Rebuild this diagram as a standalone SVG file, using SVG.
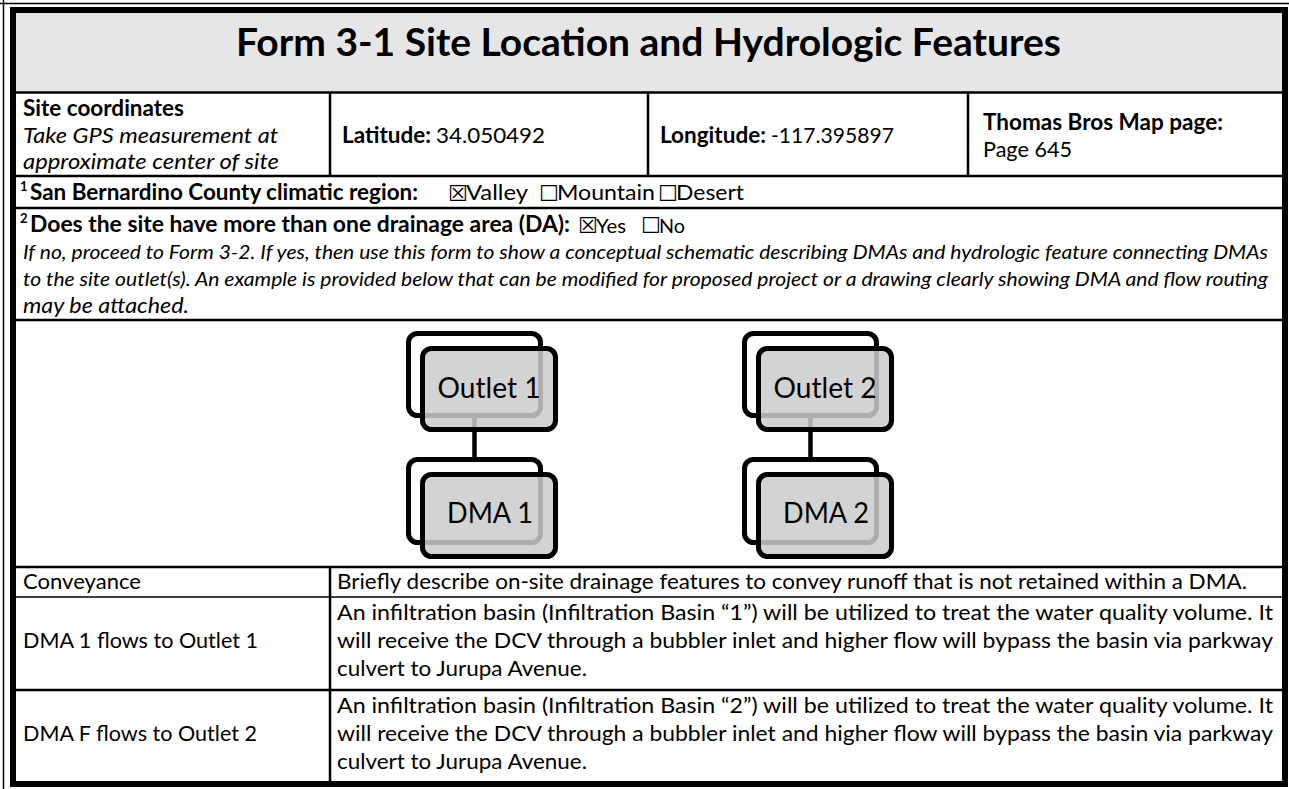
<svg xmlns="http://www.w3.org/2000/svg" width="1289" height="789" viewBox="0 0 1289 789">
<style>
text{font-family:Lato,"Open Sans","Liberation Sans",sans-serif;fill:#000}
.t{font-size:22px}
.b{font-size:22px;font-weight:bold}
.i{font-size:22px;font-style:italic}
.ip{font-size:20px;font-style:italic}
.sup{font-size:13px;font-weight:bold}
.box{font-family:"DejaVu Sans",sans-serif;font-size:22px}
.yn{font-size:20px}
.ln{stroke:#000;stroke-width:2.5;fill:none}
.thin{stroke:#000;stroke-width:1.5;fill:none}
.back{fill:#fff;stroke:#000;stroke-width:5}
.front{fill:#cbcbcb;fill-opacity:0.85;stroke:#000;stroke-width:5}
.nl{font-size:28px;text-anchor:middle}
.conn{stroke:#000;stroke-width:4.5;fill:none}
</style>
<rect x="0" y="0" width="1289" height="789" fill="#fff"/>
<g id="frame">
<rect x="16" y="13" width="1266" height="79.5" fill="#e6e6e6"/>
<line x1="0" y1="3.5" x2="1289" y2="3.5" class="thin"/>
<line x1="3.5" y1="0" x2="3.5" y2="789" class="thin"/>
<rect x="13" y="10" width="1272" height="774" fill="none" stroke="#000" stroke-width="6"/>
<line x1="16" y1="92.5" x2="1282" y2="92.5" class="ln"/>
<line x1="16" y1="176" x2="1282" y2="176" class="ln"/>
<line x1="16" y1="208" x2="1282" y2="208" class="ln"/>
<line x1="16" y1="320" x2="1282" y2="320" class="ln"/>
<line x1="16" y1="567" x2="1282" y2="567" class="ln"/>
<line x1="16" y1="597" x2="1282" y2="597" class="thin"/>
<line x1="16" y1="690" x2="1282" y2="690" class="ln"/>
<line x1="330" y1="92" x2="330" y2="176" class="ln"/>
<line x1="648" y1="92" x2="648" y2="176" class="ln"/>
<line x1="968" y1="92" x2="968" y2="176" class="ln"/>
<line x1="330" y1="567" x2="330" y2="781" class="ln"/>
</g>
<g id="title">
<text x="648.5" y="56" text-anchor="middle" font-size="39" font-weight="bold" textLength="825" lengthAdjust="spacingAndGlyphs">Form 3-1 Site Location and Hydrologic Features</text>
</g>
<g id="row1">
<text x="23" y="116" class="b" textLength="161" lengthAdjust="spacingAndGlyphs">Site coordinates</text>
<text x="23" y="143" class="i" textLength="255" lengthAdjust="spacingAndGlyphs">Take GPS measurement at</text>
<text x="23" y="169" class="i" textLength="256" lengthAdjust="spacingAndGlyphs">approximate center of site</text>
<text x="342" y="143" class="t"><tspan class="b" textLength="89" lengthAdjust="spacingAndGlyphs">Latitude:</tspan><tspan x="436" textLength="109" lengthAdjust="spacingAndGlyphs">34.050492</tspan></text>
<text x="660" y="143" class="t"><tspan class="b" textLength="106" lengthAdjust="spacingAndGlyphs">Longitude:</tspan><tspan x="771" textLength="123" lengthAdjust="spacingAndGlyphs">-117.395897</tspan></text>
<text x="983" y="130" class="b" textLength="240" lengthAdjust="spacingAndGlyphs">Thomas Bros Map page:</text>
<text x="983" y="157" class="t" textLength="89" lengthAdjust="spacingAndGlyphs">Page 645</text>
</g>
<g id="row2">
<text x="20" y="191" class="sup">1</text>
<text x="30" y="200" class="b" textLength="388" lengthAdjust="spacingAndGlyphs">San Bernardino County climatic region:</text>
<text x="448" y="201" class="box">☒</text>
<text x="466" y="200" class="t" textLength="62" lengthAdjust="spacingAndGlyphs">Valley</text>
<text x="539" y="201" class="box">☐</text>
<text x="557" y="200" class="t" textLength="98" lengthAdjust="spacingAndGlyphs">Mountain</text>
<text x="658" y="201" class="box">☐</text>
<text x="676" y="200" class="t" textLength="68" lengthAdjust="spacingAndGlyphs">Desert</text>
</g>
<g id="row3">
<text x="20" y="223" class="sup">2</text>
<text x="30" y="232" class="b" textLength="540" lengthAdjust="spacingAndGlyphs">Does the site have more than one drainage area (DA):</text>
<text x="578" y="233" class="box">☒</text>
<text x="596" y="233" class="yn" textLength="30" lengthAdjust="spacingAndGlyphs">Yes</text>
<text x="641" y="233" class="box">☐</text>
<text x="659" y="233" class="yn" textLength="26" lengthAdjust="spacingAndGlyphs">No</text>
<text x="23" y="259" class="ip" textLength="1245" lengthAdjust="spacingAndGlyphs">If no, proceed to Form 3-2. If yes, then use this form to show a conceptual schematic describing DMAs and hydrologic feature connecting DMAs</text>
<text x="23" y="286" class="ip" textLength="1245" lengthAdjust="spacingAndGlyphs">to the site outlet(s). An example is provided below that can be modified for proposed project or a drawing clearly showing DMA and flow routing</text>
<text x="23" y="313" class="i" textLength="166" lengthAdjust="spacingAndGlyphs">may be attached.</text>
</g>
<g id="connectors">
<line x1="474.5" y1="418" x2="474.5" y2="459" class="conn"/>
<line x1="810.5" y1="418" x2="810.5" y2="459" class="conn"/>
</g>
<g id="outlet1">
<rect x="408.5" y="333.5" width="132" height="82" rx="9" class="back"/>
<rect x="422.5" y="348.5" width="133" height="81" rx="9" class="front"/>
<text x="489" y="398" class="nl" textLength="103" lengthAdjust="spacingAndGlyphs">Outlet 1</text>
</g>
<g id="dma1">
<rect x="408.5" y="459.5" width="132" height="83" rx="9" class="back"/>
<rect x="422.5" y="474.5" width="133" height="82" rx="9" class="front"/>
<text x="490" y="523" class="nl" textLength="86" lengthAdjust="spacingAndGlyphs">DMA 1</text>
</g>
<g id="outlet2">
<rect x="744.5" y="333.5" width="132" height="82" rx="9" class="back"/>
<rect x="758.5" y="348.5" width="133" height="81" rx="9" class="front"/>
<text x="825" y="398" class="nl" textLength="103" lengthAdjust="spacingAndGlyphs">Outlet 2</text>
</g>
<g id="dma2">
<rect x="744.5" y="459.5" width="132" height="83" rx="9" class="back"/>
<rect x="758.5" y="474.5" width="133" height="82" rx="9" class="front"/>
<text x="826" y="523" class="nl" textLength="86" lengthAdjust="spacingAndGlyphs">DMA 2</text>
</g>
<g id="table">
<text x="23" y="589" class="t" textLength="118" lengthAdjust="spacingAndGlyphs">Conveyance</text>
<text x="337" y="589" class="t" textLength="910" lengthAdjust="spacingAndGlyphs">Briefly describe on-site drainage features to convey runoff that is not retained within a DMA.</text>
<text x="23" y="648" class="t" textLength="235" lengthAdjust="spacingAndGlyphs">DMA 1 flows to Outlet 1</text>
<text x="337" y="620" class="t" textLength="936" lengthAdjust="spacingAndGlyphs">An infiltration basin (Infiltration Basin “1”) will be utilized to treat the water quality volume. It</text>
<text x="337" y="648" class="t" textLength="936" lengthAdjust="spacingAndGlyphs">will receive the DCV through a bubbler inlet and higher flow will bypass the basin via parkway</text>
<text x="337" y="676" class="t" textLength="250" lengthAdjust="spacingAndGlyphs">culvert to Jurupa Avenue.</text>
<text x="23" y="741" class="t" textLength="234" lengthAdjust="spacingAndGlyphs">DMA F flows to Outlet 2</text>
<text x="337" y="713" class="t" textLength="936" lengthAdjust="spacingAndGlyphs">An infiltration basin (Infiltration Basin “2”) will be utilized to treat the water quality volume. It</text>
<text x="337" y="741" class="t" textLength="936" lengthAdjust="spacingAndGlyphs">will receive the DCV through a bubbler inlet and higher flow will bypass the basin via parkway</text>
<text x="337" y="769" class="t" textLength="250" lengthAdjust="spacingAndGlyphs">culvert to Jurupa Avenue.</text>
</g>
</svg>
